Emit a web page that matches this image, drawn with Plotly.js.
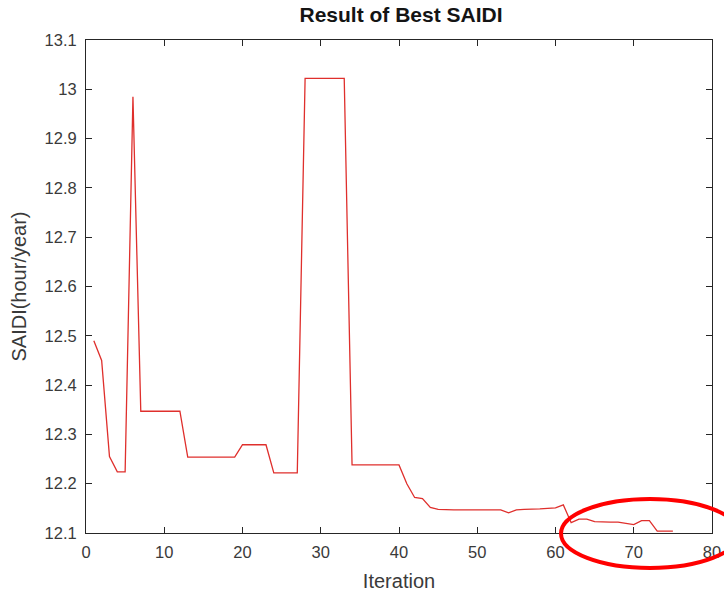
<!DOCTYPE html>
<html>
<head>
<meta charset="utf-8">
<script src="https://cdn.plot.ly/plotly-3.0.1.min.js"></script>
<style>html,body{margin:0;padding:0;background:#fff;}#chart{width:724px;height:593px;}</style>
</head>
<body>
<div id="chart"></div>
<script>
const iterations = [];
for (let i = 1; i <= 75; i++) iterations.push(i);
const saidi = [
  12.490, 12.450, 12.255, 12.224, 12.224, 12.985,
  12.347, 12.347, 12.347, 12.347, 12.347, 12.347,
  12.254, 12.254, 12.254, 12.254, 12.254, 12.254, 12.254,
  12.279, 12.279, 12.279, 12.279,
  12.222, 12.222, 12.222, 12.222,
  13.022, 13.022, 13.022, 13.022, 13.022, 13.022,
  12.238, 12.238, 12.238, 12.238, 12.238, 12.238, 12.238,
  12.200, 12.172, 12.170, 12.152, 12.148,
  12.147, 12.147, 12.147, 12.147, 12.147, 12.147, 12.147, 12.147,
  12.141, 12.147, 12.148, 12.148, 12.149, 12.150, 12.151, 12.157,
  12.121, 12.128, 12.128, 12.123, 12.122, 12.122, 12.122, 12.120, 12.117,
  12.125, 12.125, 12.104, 12.104, 12.104
];
const xTicks = [0, 10, 20, 30, 40, 50, 60, 70, 80];
const yTicks = [12.1, 12.2, 12.3, 12.4, 12.5, 12.6, 12.7, 12.8, 12.9, 13, 13.1];
const yTickText = ['12.1','12.2','12.3','12.4','12.5','12.6','12.7','12.8','12.9','13','13.1'];

const W = 724, H = 593;
const m = {l: 86, r: 12, t: 40, b: 60};
const pw = W - m.l - m.r, ph = H - m.t - m.b;
function px2paperX(px) { return (px - m.l) / pw; }
function px2paperY(py) { return (H - m.b - py) / ph; }

const FONT = 'Liberation Sans, Arial, Helvetica, sans-serif';
const axisCommon = {
  showgrid: false, zeroline: false,
  showline: true, linecolor: '#262626', linewidth: 1,
  mirror: 'ticks', ticks: 'inside', ticklen: 6, tickcolor: '#262626', tickwidth: 1,
  tickfont: {family: FONT, size: 16.5, color: '#3a3a3a'},
  automargin: false
};

const data = [{
  x: iterations, y: saidi, type: 'scatter', mode: 'lines',
  line: {color: '#df2f2c', width: 1.3}, hoverinfo: 'x+y'
}];

const layout = {
  width: W, height: H,
  margin: m,
  paper_bgcolor: '#ffffff', plot_bgcolor: '#ffffff',
  showlegend: false,
  title: {
    text: '<b>Result of Best SAIDI</b>',
    font: {family: FONT, size: 21, color: '#141414'},
    x: 401 / W, xanchor: 'center', xref: 'container',
    y: 1 - 15 / H, yanchor: 'middle', yref: 'container'
  },
  xaxis: Object.assign({}, axisCommon, {
    range: [0, 80], tickvals: xTicks, ticktext: xTicks.map(String),
    ticklabelstandoff: 4,
    title: {text: 'Iteration', font: {family: FONT, size: 20, color: '#3a3a3a'}, standoff: 14}
  }),
  yaxis: Object.assign({}, axisCommon, {
    range: [12.1, 13.1], tickvals: yTicks, ticktext: yTickText,
    ticklabelstandoff: 5,
    title: {text: 'SAIDI(hour/year)', font: {family: FONT, size: 20, color: '#3a3a3a'}, standoff: 12}
  }),
  shapes: [{
    type: 'circle', xref: 'paper', yref: 'paper',
    x0: px2paperX(561), x1: px2paperX(739),
    y0: px2paperY(568), y1: px2paperY(499),
    line: {color: '#ff0000', width: 4}
  }]
};

Plotly.newPlot('chart', data, layout, {displayModeBar: false, staticPlot: true});
</script>
</body>
</html>
